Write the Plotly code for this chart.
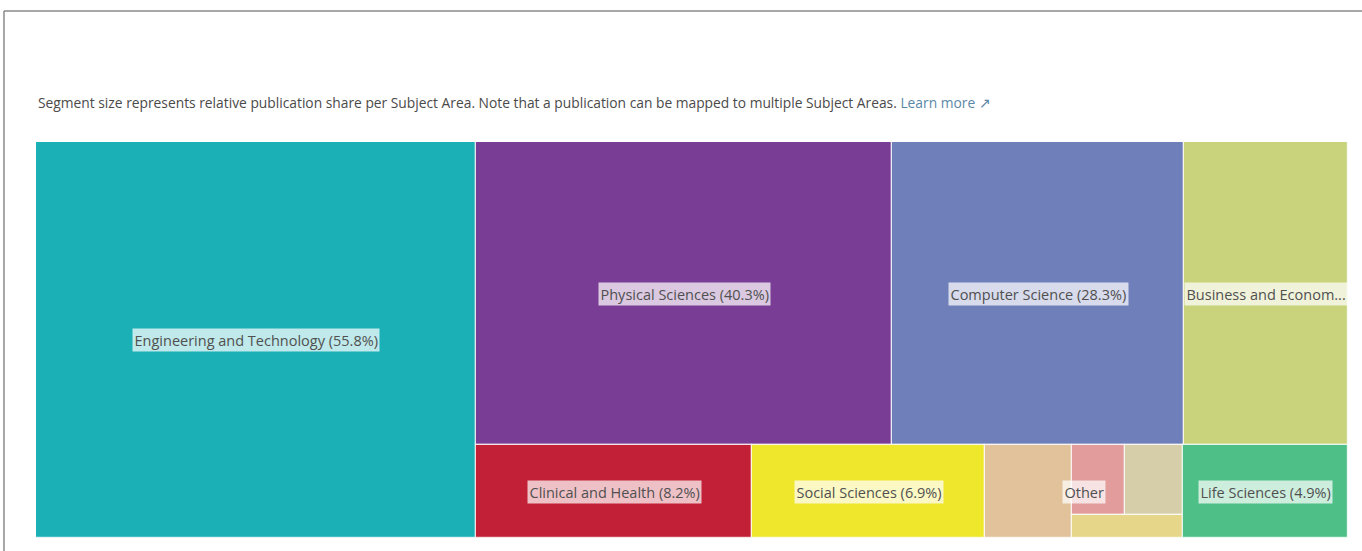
"""Subject area treemap: publication share per Subject Area."""

import plotly.graph_objects as go

# --- data -----------------------------------------------------------------
AREAS = [
    "Engineering and Technology",
    "Physical Sciences",
    "Computer Science",
    "Business and Economics",
    "Clinical and Health",
    "Social Sciences",
    "Life Sciences",
]
SHARES = [55.8, 40.3, 28.3, 15.9, 8.2, 6.9, 4.9]
AREA_COLORS = ["#1bb0b5", "#7a3d95", "#6f7fb9", "#c8d37b", "#c22036", "#efe72c", "#4dbf87"]

# "Other" is made of several small unnamed areas
OTHER_PARTS = ["other-1", "other-2", "other-3", "other-4"]
OTHER_SHARES = [2.6, 1.2, 1.3, 0.8]
OTHER_COLORS = ["#e2c29a", "#e29c9c", "#d6cea8", "#e6d68a"]

NOTE = ("Segment size represents relative publication share per Subject Area. "
        "Note that a publication can be mapped to multiple Subject Areas.")

share = dict(zip(AREAS, SHARES)) | dict(zip(OTHER_PARTS, OTHER_SHARES))
color = dict(zip(AREAS, AREA_COLORS)) | dict(zip(OTHER_PARTS, OTHER_COLORS))

# tiling: ("h", ...) splits left to right, ("v", ...) splits top to bottom
OTHER = ("h", ["other-1", ("v", [("h", ["other-2", "other-3"]), "other-4"])])
TREE = ("h", [
    "Engineering and Technology",
    ("v", [
        ("h", ["Physical Sciences", "Computer Science", "Business and Economics"]),
        ("h", ["Clinical and Health", "Social Sciences", OTHER, "Life Sciences"]),
    ]),
])

PLOT_W, PLOT_H = 1312, 396


def weight(node):
    if isinstance(node, str):
        return share[node]
    return sum(weight(c) for c in node[1])


def tile(node, x0, x1, y0, y1, out, groups):
    if isinstance(node, str):
        out.append((node, x0, x1, y0, y1))
        return
    direction, children = node
    if node is OTHER:
        groups.append(("Other", x0, x1, y0, y1))
    total = weight(node)
    pos = x0 if direction == "h" else y0
    for child in children:
        frac = weight(child) / total
        if direction == "h":
            step = (x1 - x0) * frac
            tile(child, pos, pos + step, y0, y1, out, groups)
        else:
            step = (y1 - y0) * frac
            tile(child, x0, x1, pos, pos + step, out, groups)
        pos += step


leaves, groups = [], []
tile(TREE, 0, 1, 0, 1, leaves, groups)


def fit(text, width_frac):
    max_chars = int(width_frac * PLOT_W / 7.4)
    return text if len(text) <= max_chars else text[: max_chars - 3].rstrip() + "..."


fig = go.Figure(
    go.Bar(
        x=[(l[1] + l[2]) / 2 for l in leaves],
        width=[l[2] - l[1] for l in leaves],
        base=[l[3] for l in leaves],
        y=[l[4] - l[3] for l in leaves],
        marker=dict(color=[color[l[0]] for l in leaves],
                    line=dict(color="rgba(255,255,255,0.75)", width=1.2)),
        hoverinfo="skip",
    )
)

label_style = dict(showarrow=False, font=dict(family="Open Sans", size=14.5, color="#505050"),
                   bgcolor="rgba(255,255,255,0.72)", borderpad=1.5,
                   xanchor="center", yanchor="middle")
for name, x0, x1, y0, y1 in leaves:
    if name in AREAS:
        fig.add_annotation(x=(x0 + x1) / 2, y=(y0 + y1) / 2,
                           text=fit(f"{name} ({share[name]}%)", x1 - x0), **label_style)
for name, x0, x1, y0, y1 in groups:
    fig.add_annotation(x=(x0 + x1) / 2, y=(y0 + y1) / 2, text=name, **label_style)

fig.add_annotation(
    xref="paper", yref="paper", x=0, y=1.101, xanchor="left", yanchor="middle",
    showarrow=False,
    text=NOTE + ' <span style="color:#5b87a6">Learn more \u2197</span>',
    font=dict(family="Open Sans", size=13.8, color="#4a4a4a"),
)

# page frame
frame = dict(type="line", xref="paper", yref="paper", line=dict(color="#8a8a8a", width=1.5))
fig.add_shape(x0=-0.0244, x1=1.02, y0=1.331, y1=1.331, **frame)
fig.add_shape(x0=-0.0244, x1=-0.0244, y0=1.331, y1=-0.04, **frame)

fig.update_layout(
    width=1362, height=551,
    margin=dict(l=36, r=14, t=142, b=13),
    paper_bgcolor="white", plot_bgcolor="white",
    barmode="overlay", bargap=0, showlegend=False,
    xaxis=dict(range=[0, 1], visible=False, fixedrange=True),
    yaxis=dict(range=[1, 0], visible=False, fixedrange=True),
)

# drop the default 8px page margin so the figure sits at the window origin
fig.write_html("out.html", config={"displayModeBar": False},
               post_script="document.body.style.margin='0';")
